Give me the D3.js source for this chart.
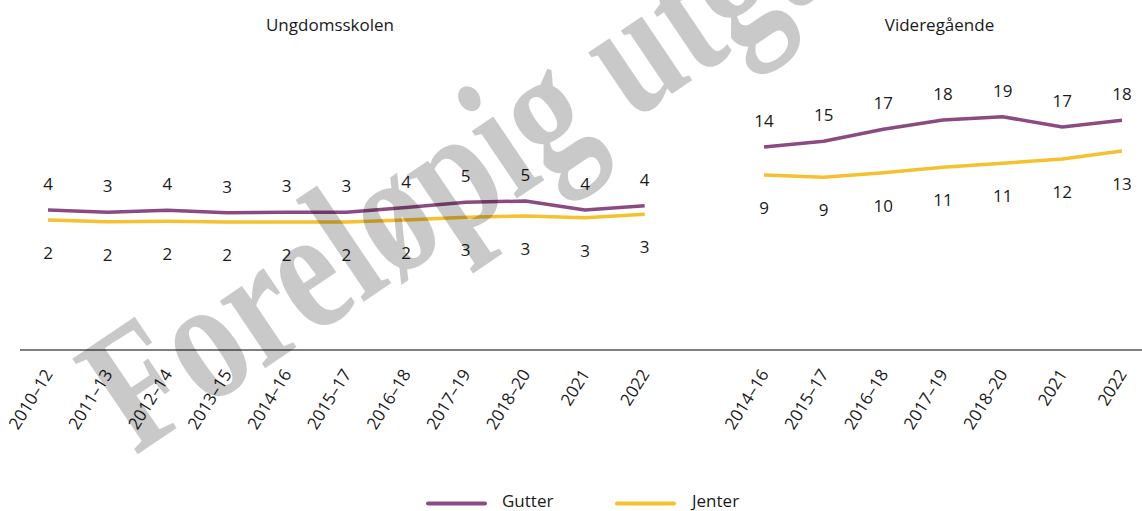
<!DOCTYPE html>
<html><head><meta charset="utf-8">
<script src="https://cdn.jsdelivr.net/npm/d3@7"></script>
<style>
html,body{margin:0;padding:0;background:#fff;}
svg{display:block;font-family:"Open Sans",sans-serif;}
</style></head>
<body><svg id="chart" width="1142" height="511"></svg>
<script>
// ---- data ----
const panelTitles = ["Ungdomsskolen", "Videregående"];
const seriesNames = ["Gutter", "Jenter"];
const ungCats = ["2010–12","2011–13","2012–14","2013–15","2014–16","2015–17","2016–18","2017–19","2018–20","2021","2022"];
const ungGutter = [3.64, 3.31, 3.60, 3.26, 3.31, 3.33, 4.0, 4.74, 4.93, 3.64, 4.26];
const ungJenter = [2.21, 1.97, 2.03, 1.93, 1.93, 1.93, 2.21, 2.6, 2.79, 2.52, 3.03];
const vgsCats = ["2014–16","2015–17","2016–18","2017–19","2018–20","2021","2022"];
const vgsGutter = [13.79, 14.7, 16.6, 18.08, 18.6, 16.97, 18.03];
const vgsJenter = [9.35, 8.98, 9.71, 10.57, 11.21, 11.89, 13.16];
const watermarkText = "Foreløpig utgave";

const colors = {Gutter: "#8b4a82", Jenter: "#f5c12f"};

const svg = d3.select("#chart");

// shared x: point scale across both panels with one empty slot between
const keys = ungCats.map(c => "U|" + c).concat(["gap"], vgsCats.map(c => "V|" + c));
const x = d3.scalePoint().domain(keys).range([48, 1122]);

const yU = d3.scaleLinear().domain([0, 5]).range([235.5, 200.5]);
const yV = d3.scaleLinear().domain([0, 20]).range([233.9, 107.9]);

const panels = [
  {title: panelTitles[0], cats: ungCats, pre: "U|", y: yU, series: {Gutter: ungGutter, Jenter: ungJenter}, tx: 330},
  {title: panelTitles[1], cats: vgsCats, pre: "V|", y: yV, series: {Gutter: vgsGutter, Jenter: vgsJenter}, tx: 939.5}
];

const fmt = d3.format(".0f");

panels.forEach(p => {
  svg.append("text").attr("x", p.tx).attr("y", 31).attr("text-anchor", "middle")
    .attr("font-size", 17).attr("fill", "#1a1a1a").text(p.title);
  seriesNames.forEach(s => {
    const vals = p.series[s];
    const line = d3.line().x((d, i) => x(p.pre + p.cats[i])).y(d => p.y(d));
    svg.append("path").datum(vals).attr("d", line).attr("fill", "none")
      .attr("stroke", colors[s]).attr("stroke-width", 3.5).attr("stroke-linejoin", "round");
    svg.selectAll(null).data(vals).enter().append("text")
      .attr("x", (d, i) => x(p.pre + p.cats[i]))
      .attr("y", d => s === "Gutter" ? p.y(d) - 20 : p.y(d) + 39)
      .attr("text-anchor", "middle").attr("font-size", 17).attr("fill", "#1a1a1a")
      .text(d => fmt(d));
  });
});

// baseline
svg.append("line").attr("x1", 20).attr("x2", 1142).attr("y1", 350).attr("y2", 350)
  .attr("stroke", "#555").attr("stroke-width", 1.5);

// axis labels
const axis = d3.axisBottom(x).tickSize(0).tickFormat(k => k.split("|")[1] || "");
const gAx = svg.append("g").attr("transform", "translate(0,350)").call(axis);
gAx.select(".domain").remove();
gAx.selectAll(".tick text")
  .attr("font-family", "Open Sans, sans-serif").attr("font-size", 17).attr("fill", "#1a1a1a")
  .attr("text-anchor", "end").attr("y", 0).attr("dy", 0)
  .attr("transform", "translate(5,24) rotate(-58)");

// legend
const leg = svg.append("g");
[{n: seriesNames[0], x0: 428, tx: 502}, {n: seriesNames[1], x0: 617, tx: 692}].forEach(l => {
  leg.append("line").attr("x1", l.x0).attr("x2", l.x0 + 57).attr("y1", 503.5).attr("y2", 503.5)
    .attr("stroke", colors[l.n]).attr("stroke-width", 4).attr("stroke-linecap", "round");
  leg.append("text").attr("x", l.tx).attr("y", 507).attr("font-size", 17).attr("fill", "#1a1a1a").text(l.n);
});

// watermark
svg.append("text").attr("transform", "translate(135,456) rotate(-34) scale(1,1.28)")
  .attr("font-family", "Liberation Serif, serif").attr("font-weight", "bold")
  .attr("font-size", 138).attr("fill", "#000").attr("fill-opacity", 0.21)
  .text(watermarkText);
</script></body></html>
